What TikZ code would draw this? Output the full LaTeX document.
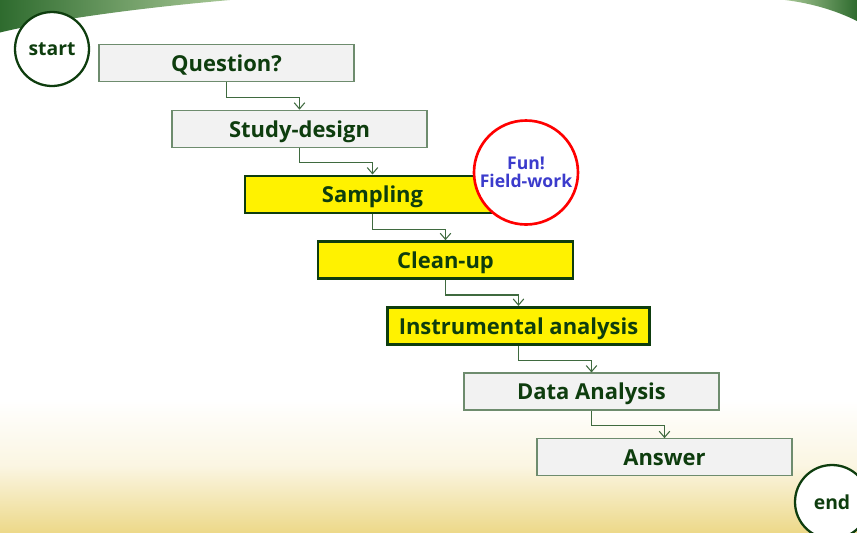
\documentclass[tikz,border=0pt]{standalone}
\usepackage{fontspec}
\setmainfont{Open Sans}
\usepackage{tikz}
\usetikzlibrary{arrows.meta, shapes, positioning}

\definecolor{leafgreen}{HTML}{2E6B2E}
\definecolor{leaflight}{HTML}{A8C896}
\definecolor{txtgreen}{HTML}{0E3D0E}
\definecolor{boxline}{HTML}{6E8C6E}
\definecolor{boxgray}{HTML}{F2F2F2}
\definecolor{linkgreen}{HTML}{3F6A3F}
\definecolor{sandy}{HTML}{EDD98A}
\definecolor{funblue}{HTML}{3B3BCC}

\begin{document}
\begin{tikzpicture}[node distance=1.314cm and 1.46cm,on grid,
		font=\bfseries\fontsize{12.5}{14}\selectfont,
		stage/.style={rectangle, minimum width=5.1cm, minimum height=0.74cm, text height=1.9ex, text depth=0.1ex, draw=boxline, line width=0.6pt, fill=boxgray, text=txtgreen},
		hot/.style={stage, fill=yellow, draw=txtgreen, line width=1.6pt},
		term/.style={circle, minimum size=1.48cm, draw=txtgreen, line width=1.3pt, fill=white, text=txtgreen, font=\bfseries\fontsize{11}{13}\selectfont},
		link/.style={draw=linkgreen, line width=0.6pt, -{Straight Barb[length=3.5pt,width=6pt]}}]
		\useasboundingbox (0,0) rectangle (17.14,-10.64);
		% background
		\fill[white] (0,0) rectangle (17.14,-10.64);
		\fill[top color=white, bottom color=sandy, middle color=sandy!25] (0,-8.0) rectangle (17.14,-10.64);
		\shade[left color=leafgreen, right color=leaflight] (0,0) -- (4.6,0) .. controls (3,-0.14) and (1.2,-0.36) .. (0,-0.65) -- cycle;
		\shade[left color=leaflight, right color=leafgreen] (15.7,0) -- (17.14,0) -- (17.14,-0.42) .. controls (16.7,-0.2) and (16.2,-0.06) .. (15.7,0);
		
		\node[term] (start) at (1.04,-0.98) {start};
		\node[stage] (q) at (4.53,-1.26) {Question?};
		\node[stage, below right = of q] (sd) {Study-design};
		\node[hot, below right = of sd] (samp) {Sampling};
		\node[hot, below right = of samp] (clean) {Clean-up};
		\node[hot, below right = of clean, minimum width=5.24cm] (instr) {Instrumental analysis};
		\node[stage, below right = of instr] (data) {Data Analysis};
		\node[stage, below right = of data] (ans) {Answer};
		\node[term] (end) at (16.64,-10.04) {end};
		
		\node[circle, minimum size=2.08cm, draw=red, line width=1.5pt, fill=white, text=funblue, align=center,
		font=\bfseries\fontsize{10}{10.5}\selectfont, inner sep=0pt] (fun) at (10.52,-3.45) {Fun!\\Field-work};
		
		\draw[link] (q.south) -- ++(0,-0.3) -| (sd.north);
		\draw[link] (sd.south) -- ++(0,-0.3) -| (samp.north);
		\draw[link] (samp.south) -- ++(0,-0.3) -| (clean.north);
		\draw[link] (clean.south) -- ++(0,-0.3) -| (instr.north);
		\draw[link] (instr.south) -- ++(0,-0.3) -| (data.north);
		\draw[link] (data.south) -- ++(0,-0.3) -| (ans.north);
\end{tikzpicture}
\end{document}
